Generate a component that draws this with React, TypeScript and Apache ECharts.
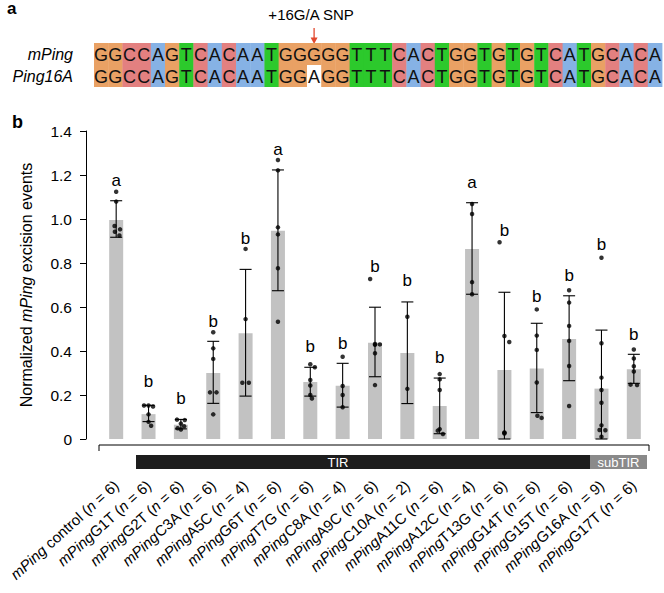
import React, { useEffect, useRef } from 'react';
import * as echarts from 'echarts';

const FONT = "'Liberation Sans', Arial, Helvetica, sans-serif";

// ---------- panel a: sequence alignment ----------
const seqRowLabels = ['mPing', 'Ping16A'];
const seqRowStrings = [
  'GGCCAGTCACAATGGGGGTTTCACTGGTGTGTCATGCACA',
  'GGCCAGTCACAATGGAGGTTTCACTGGTGTGTCATGCACA',
];
const snpLabel = '+16G/A SNP';
const snpIndex = 15;
const baseColors: Record<string, string> = { G: '#E9A164', C: '#E38080', A: '#86B2E5', T: '#2CC92C' };

// ---------- panel b: bar chart ----------
const categories = [
  'mPing control', 'mPingG1T', 'mPingG2T', 'mPingC3A', 'mPingA5C', 'mPingG6T', 'mPingT7G', 'mPingC8A',
  'mPingA9C', 'mPingC10A', 'mPingA11C', 'mPingA12C', 'mPingT13G', 'mPingG14T', 'mPingG15T', 'mPingG16A', 'mPingG17T',
];
const sampleSizes = [6, 6, 6, 6, 4, 6, 6, 4, 6, 2, 6, 4, 6, 6, 6, 9, 6];
const means = [0.995, 0.113, 0.065, 0.3, 0.481, 0.947, 0.259, 0.242, 0.438, 0.391, 0.15, 0.864, 0.314, 0.321, 0.455, 0.229, 0.317];
const errLow = [0.917, 0.079, 0.046, 0.162, 0.195, 0.674, 0.195, 0.145, 0.283, 0.161, 0.024, 0.658, 0.0, 0.12, 0.265, 0.0, 0.253];
const errHigh = [1.083, 0.153, 0.089, 0.444, 0.771, 1.223, 0.326, 0.344, 0.599, 0.623, 0.277, 1.074, 0.667, 0.526, 0.651, 0.495, 0.385];
const sigLetters = ['a', 'b', 'b', 'b', 'b', 'a', 'b', 'b', 'b', 'b', 'b', 'a', 'b', 'b', 'b', 'b', 'b'];
const letterHeights = [1.174, 0.26, 0.183, 0.536, 0.912, 1.314, 0.42, 0.435, 0.786, 0.72, 0.371, 1.167, 0.95, 0.647, 0.741, 0.885, 0.476];
const replicatePoints = [
  [1.124, 1.079, 0.968, 0.953, 0.942, 0.925],
  [0.152, 0.152, 0.148, 0.112, 0.078, 0.06],
  [0.088, 0.086, 0.07, 0.058, 0.049, 0.043],
  [0.485, 0.412, 0.364, 0.212, 0.212, 0.112],
  [0.864, 0.545, 0.256, 0.256],
  [1.268, 1.221, 0.962, 0.93, 0.776, 0.533],
  [0.34, 0.326, 0.268, 0.243, 0.2, 0.184],
  [0.374, 0.241, 0.2, 0.144],
  [0.727, 0.432, 0.43, 0.428, 0.39, 0.245],
  [0.556, 0.228],
  [0.295, 0.271, 0.223, 0.045, 0.038, 0.023],
  [1.068, 1.023, 0.713, 0.658],
  [0.894, 0.468, 0.441, 0.03, 0.028, 0.025],
  [0.589, 0.47, 0.405, 0.257, 0.106, 0.096],
  [0.676, 0.62, 0.514, 0.446, 0.332, 0.15],
  [0.824, 0.435, 0.279, 0.223, 0.165, 0.062, 0.041, 0.04, 0.01],
  [0.407, 0.366, 0.331, 0.307, 0.247, 0.245],
];
const pointDodge = [
  [0, 0, -0.05, 0.12, -0.04, 0.1],
  [-0.14, 0, 0.14, 0, 0, 0.08],
  [-0.12, 0.12, 0, 0.1, -0.1, 0],
  [0, 0, 0, -0.1, 0.1, 0],
  [0, 0, -0.1, 0.1],
  [0, 0, 0, 0, 0, 0],
  [0, 0.14, 0, 0, 0, 0.05],
  [0, 0, 0, 0],
  [-0.15, 0, 0.15, 0, 0, 0],
  [0, 0],
  [0, 0, 0, 0, -0.06, 0.1],
  [0, 0, 0, 0],
  [-0.15, 0, 0.15, 0, 0, 0],
  [0, 0, 0, 0, 0.02, 0.15],
  [0, 0, 0, 0, 0, 0],
  [0, 0, 0, 0, 0, 0, -0.06, 0.12, 0],
  [0, 0, 0, 0, -0.1, 0.1],
];
const yTicks = [0, 0.2, 0.4, 0.6, 0.8, 1.0, 1.2, 1.4];
const regionLabels = ['TIR', 'subTIR'];

function buildGraphics() {
  const els: any[] = [];
  const x0 = 94;
  const cw = 14.2;
  const y0 = 43;
  const rh = 22;
  els.push({
    type: 'text', x: 7, y: 0,
    style: { text: 'a', fill: '#000', font: `bold 17px ${FONT}`, align: 'left', verticalAlign: 'top', textAlign: 'left', textVerticalAlign: 'top' },
  });
  els.push({
    type: 'text', x: 12, y: 131,
    style: { text: 'b', fill: '#000', font: `bold 18px ${FONT}`, align: 'left', verticalAlign: 'bottom', textAlign: 'left', textVerticalAlign: 'bottom' },
  });
  const ax = x0 + (snpIndex + 0.5) * cw;
  els.push({
    type: 'text', x: ax - 3, y: 14,
    style: { text: snpLabel, fill: '#000', font: `15px ${FONT}`, align: 'center', verticalAlign: 'middle', textAlign: 'center', textVerticalAlign: 'middle' },
  });
  els.push({ type: 'line', shape: { x1: ax, y1: 28, x2: ax, y2: 39 }, style: { stroke: '#E2492F', lineWidth: 1.3 } });
  els.push({ type: 'polygon', shape: { points: [[ax - 3.5, 37.5], [ax + 3.5, 37.5], [ax, 44]] }, style: { fill: '#E2492F' } });
  seqRowStrings.forEach((seq, r) => {
    const ry = y0 + r * rh;
    els.push({
      type: 'text', x: 73, y: ry + rh / 2,
      style: { text: seqRowLabels[r], fill: '#000', font: `italic 16px ${FONT}`, align: 'right', verticalAlign: 'middle', textAlign: 'right', textVerticalAlign: 'middle' },
    });
    for (let i = 0; i < seq.length; i++) {
      const ch = seq[i];
      const mismatch = ch !== seqRowStrings[0][i];
      els.push({
        type: 'rect', shape: { x: x0 + i * cw, y: ry, width: cw + 0.4, height: rh },
        style: { fill: mismatch ? '#ffffff' : baseColors[ch] },
      });
      els.push({
        type: 'text', x: x0 + (i + 0.5) * cw, y: ry + rh / 2 + 1,
        style: { text: ch, fill: '#111', font: `18px ${FONT}`, align: 'center', verticalAlign: 'middle', textAlign: 'center', textVerticalAlign: 'middle' },
      });
    }
  });
  // bracket under bars
  els.push({
    type: 'polyline', shape: { points: [[99, 451], [99, 445], [649, 445], [649, 451]] },
    style: { stroke: '#000', lineWidth: 1, fill: 'none' },
  });
  // TIR / subTIR bars
  els.push({ type: 'rect', shape: { x: 136, y: 455, width: 454, height: 14 }, style: { fill: '#1d1d1d' } });
  els.push({ type: 'rect', shape: { x: 590, y: 455, width: 57, height: 14 }, style: { fill: '#8a8a8a' } });
  els.push({
    type: 'text', x: 338, y: 462.5,
    style: { text: regionLabels[0], fill: '#fff', font: `13px ${FONT}`, align: 'center', verticalAlign: 'middle', textAlign: 'center', textVerticalAlign: 'middle' },
  });
  els.push({
    type: 'text', x: 618.5, y: 462.5,
    style: { text: regionLabels[1], fill: '#fff', font: `13px ${FONT}`, align: 'center', verticalAlign: 'middle', textAlign: 'center', textVerticalAlign: 'middle' },
  });
  return els;
}

function buildOption() {
  const scatterData: number[][] = [];
  replicatePoints.forEach((pts, i) => {
    pts.forEach((v, j) => scatterData.push([i + pointDodge[i][j], v]));
  });
  const errData = categories.map((_, i) => [i, errLow[i], errHigh[i]]);
  const letterData = categories.map((_, i) => [i, letterHeights[i]]);

  return {
    animation: false,
    backgroundColor: '#ffffff',
    textStyle: { fontFamily: FONT },
    grid: { left: 100, right: 14, top: 131, bottom: 154 },
    xAxis: [
      {
        type: 'category',
        data: categories,
        axisLine: { show: false, onZero: false },
        axisTick: { show: false },
        axisLabel: {
          interval: 0,
          rotate: 42,
          margin: 44,
          fontSize: 15,
          color: '#000',
          fontFamily: FONT,
          formatter: (value: string, index: number) =>
            value.replace('mPing', '{i|mPing}') + ' ({i|n} = ' + sampleSizes[index] + ')',
          rich: { i: { fontStyle: 'italic', fontSize: 15, color: '#000', fontFamily: FONT } },
        },
      },
      { type: 'value', min: -0.5, max: 16.5, show: false, axisLine: { onZero: false } },
    ],
    yAxis: {
      type: 'value',
      min: 0,
      max: 1.4,
      interval: 0.2,
      offset: 14,
      axisLine: { show: true, onZero: false, lineStyle: { color: '#000', width: 1 } },
      axisTick: { show: true, length: 6, lineStyle: { color: '#000' } },
      splitLine: { show: false },
      axisLabel: {
        margin: 14,
        fontSize: 15.5,
        color: '#000',
        fontFamily: FONT,
        formatter: (v: number) => {
          const t = yTicks.find((k) => Math.abs(k - v) < 1e-6);
          const val = t === undefined ? v : t;
          return val === 0 ? '0' : val.toFixed(1);
        },
      },
      name: 'Normalized {i|mPing} excision events',
      nameLocation: 'middle',
      nameGap: 52,
      nameTextStyle: {
        fontSize: 16,
        color: '#000',
        fontFamily: FONT,
        rich: { i: { fontStyle: 'italic', fontSize: 16, color: '#000', fontFamily: FONT } },
      },
    },
    graphic: buildGraphics(),
    series: [
      {
        type: 'bar',
        data: means,
        barWidth: 14,
        itemStyle: { color: '#C2C2C2' },
        xAxisIndex: 0,
        z: 1,
      },
      {
        type: 'custom',
        xAxisIndex: 0,
        data: errData,
        z: 3,
        renderItem: (params: any, api: any) => {
          const i = api.value(0);
          const lo = api.coord([i, api.value(1)]);
          const hi = api.coord([i, api.value(2)]);
          const half = 6;
          const st = { stroke: '#000', lineWidth: 1.1 };
          return {
            type: 'group',
            children: [
              { type: 'line', shape: { x1: hi[0], y1: hi[1], x2: lo[0], y2: lo[1] }, style: st },
              { type: 'line', shape: { x1: hi[0] - half, y1: hi[1], x2: hi[0] + half, y2: hi[1] }, style: st },
              { type: 'line', shape: { x1: lo[0] - half, y1: lo[1], x2: lo[0] + half, y2: lo[1] }, style: st },
            ],
          };
        },
      },
      {
        type: 'scatter',
        xAxisIndex: 1,
        data: scatterData,
        symbolSize: 4.5,
        itemStyle: { color: '#000' },
        z: 4,
      },
      {
        type: 'custom',
        xAxisIndex: 0,
        data: letterData,
        z: 5,
        renderItem: (params: any, api: any) => {
          const i = api.value(0);
          const p = api.coord([i, api.value(1)]);
          return {
            type: 'text',
            x: p[0],
            y: p[1],
            style: {
              text: sigLetters[params.dataIndex],
              fill: '#000',
              font: `17px ${FONT}`,
              align: 'center',
              verticalAlign: 'middle',
              textAlign: 'center',
              textVerticalAlign: 'middle',
            },
          };
        },
      },
    ],
  };
}

export default function App() {
  const ref = useRef<HTMLDivElement>(null);
  useEffect(() => {
    if (!ref.current) return;
    const chart = echarts.init(ref.current, null, { renderer: 'svg' });
    chart.setOption(buildOption() as any);
    return () => chart.dispose();
  }, []);
  return (
    <div
      ref={ref}
      style={{ position: 'absolute', left: 0, top: 0, width: 664, height: 593, background: '#fff' }}
    />
  );
}
